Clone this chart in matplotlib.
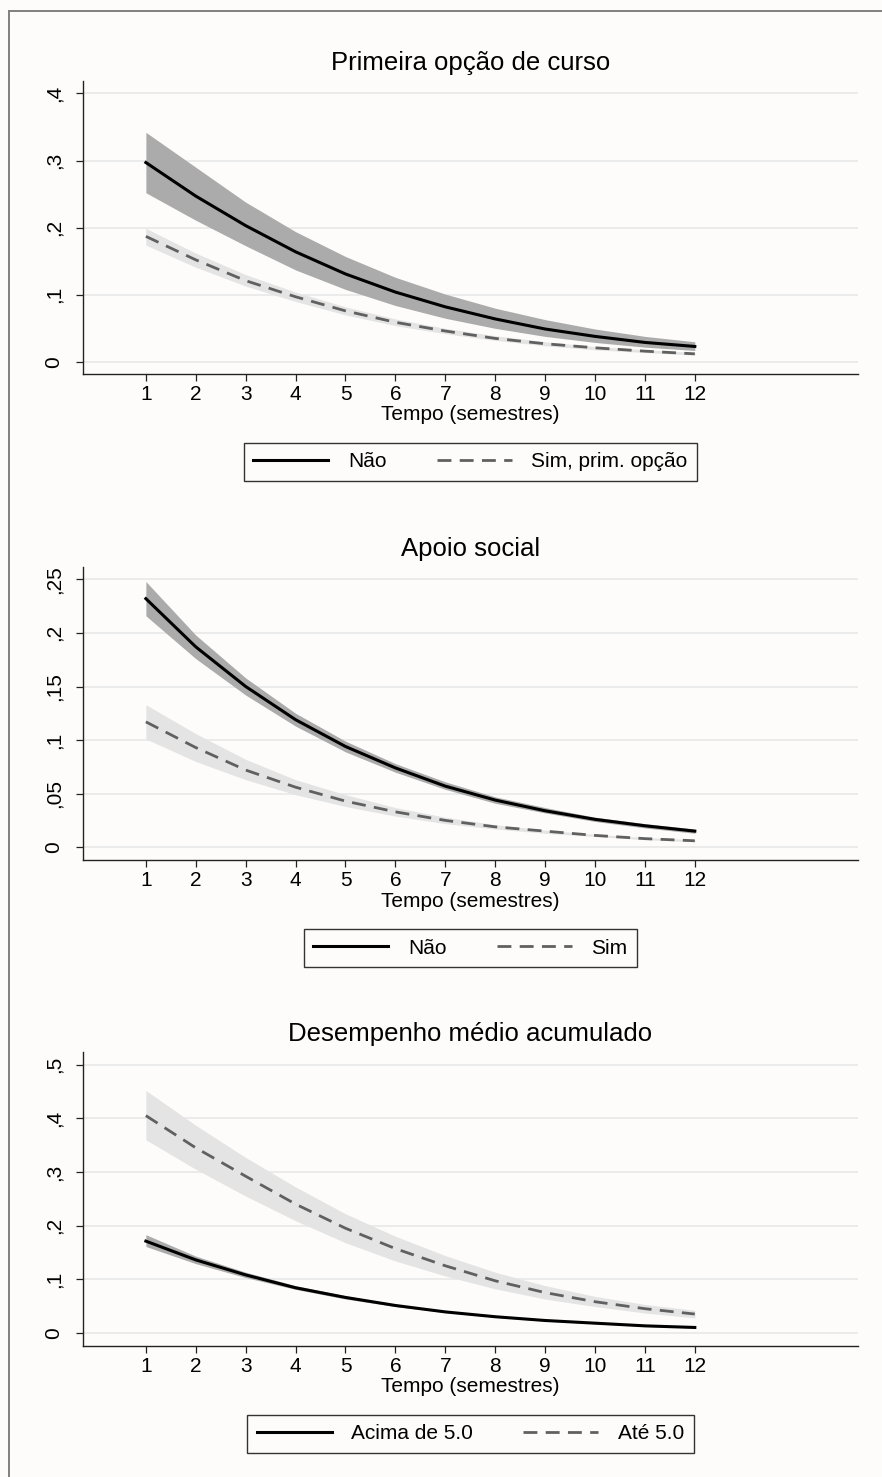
import matplotlib
matplotlib.use('Agg')
import matplotlib.pyplot as plt
from matplotlib.lines import Line2D
from matplotlib.ticker import FuncFormatter
import numpy as np

plt.rcParams['font.family'] = ['Liberation Sans', 'DejaVu Sans']

tempo = np.arange(1, 13)

# painel 1 - Primeira opção de curso
p1_nao = [0.297, 0.247, 0.203, 0.164, 0.131, 0.104, 0.082, 0.064, 0.049, 0.038, 0.029, 0.023]
p1_nao_lo = [0.252, 0.211, 0.173, 0.137, 0.108, 0.084, 0.065, 0.050, 0.038, 0.029, 0.022, 0.017]
p1_nao_hi = [0.342, 0.290, 0.238, 0.194, 0.157, 0.126, 0.101, 0.080, 0.063, 0.049, 0.038, 0.030]
p1_sim = [0.187, 0.152, 0.121, 0.097, 0.076, 0.059, 0.046, 0.035, 0.027, 0.021, 0.016, 0.012]
p1_sim_lo = [0.174, 0.141, 0.113, 0.090, 0.070, 0.054, 0.042, 0.032, 0.024, 0.018, 0.014, 0.010]
p1_sim_hi = [0.199, 0.162, 0.130, 0.104, 0.082, 0.064, 0.050, 0.039, 0.030, 0.023, 0.018, 0.014]

# painel 2 - Apoio social
p2_nao = [0.232, 0.187, 0.150, 0.119, 0.094, 0.074, 0.057, 0.044, 0.034, 0.026, 0.020, 0.015]
p2_nao_lo = [0.216, 0.176, 0.142, 0.113, 0.089, 0.070, 0.054, 0.041, 0.032, 0.024, 0.018, 0.013]
p2_nao_hi = [0.248, 0.198, 0.158, 0.125, 0.099, 0.078, 0.061, 0.047, 0.037, 0.028, 0.022, 0.017]
p2_sim = [0.117, 0.093, 0.072, 0.056, 0.043, 0.033, 0.025, 0.019, 0.015, 0.011, 0.008, 0.006]
p2_sim_lo = [0.101, 0.080, 0.063, 0.049, 0.038, 0.029, 0.022, 0.017, 0.013, 0.010, 0.007, 0.005]
p2_sim_hi = [0.133, 0.106, 0.082, 0.063, 0.049, 0.037, 0.028, 0.021, 0.016, 0.012, 0.009, 0.007]

# painel 3 - Desempenho médio acumulado
p3_acima = [0.171, 0.136, 0.108, 0.084, 0.066, 0.051, 0.039, 0.030, 0.023, 0.018, 0.013, 0.010]
p3_acima_lo = [0.161, 0.129, 0.103, 0.081, 0.063, 0.049, 0.038, 0.029, 0.022, 0.017, 0.012, 0.009]
p3_acima_hi = [0.183, 0.143, 0.113, 0.088, 0.069, 0.053, 0.041, 0.031, 0.024, 0.019, 0.014, 0.011]
p3_ate = [0.405, 0.345, 0.292, 0.240, 0.195, 0.157, 0.125, 0.097, 0.075, 0.058, 0.045, 0.035]
p3_ate_lo = [0.360, 0.305, 0.255, 0.209, 0.168, 0.134, 0.106, 0.082, 0.063, 0.049, 0.037, 0.028]
p3_ate_hi = [0.452, 0.387, 0.327, 0.272, 0.222, 0.180, 0.144, 0.113, 0.088, 0.068, 0.053, 0.042]

bg = '#fdfcfa'
escuro = '#ababab'
claro = '#e4e4e4'
tracejado = '#606060'


def fmt_br(v, pos):
    if abs(v) < 1e-9:
        return '0'
    s = ('%.2f' % v).rstrip('0')
    return s.replace('0.', ',')


def painel(ax, titulo, ylim, yticks, s_solid, s_dash, leg):
    y, lo, hi = s_solid
    yd, lod, hid = s_dash
    # bandas de confiança
    ax.fill_between(tempo, lo, hi, color=escuro, lw=0, zorder=2)
    ax.fill_between(tempo, lod, hid, color=claro, lw=0, zorder=2)
    ax.plot(tempo, y, color='black', lw=2.2, zorder=4, label=leg[0])
    ax.plot(tempo, yd, color=tracejado, lw=2.0, dashes=(5, 3), zorder=4, label=leg[1])
    ax.set_xlim(-0.26, 15.27)
    ax.set_ylim(*ylim)
    ax.set_xticks(tempo)
    ax.set_yticks(yticks)
    ax.yaxis.set_major_formatter(FuncFormatter(fmt_br))
    for t in ax.get_yticklabels():
        t.set_rotation(90)
        t.set_va('center')
    ax.grid(axis='y', color='#e8e8e8', lw=1.2, zorder=0)
    ax.set_axisbelow(True)
    for s in ['top', 'right']:
        ax.spines[s].set_visible(False)
    for s in ['left', 'bottom']:
        ax.spines[s].set_color('#222222')
        ax.spines[s].set_linewidth(1.0)
    ax.tick_params(axis='both', direction='out', length=5, width=0.9, color='#222222', labelsize=15)
    ax.tick_params(axis='x', pad=3)
    ax.tick_params(axis='y', pad=9)
    ax.set_facecolor(bg)
    ax.set_title(titulo, fontsize=18.5, pad=8)
    ax.set_xlabel('Tempo (semestres)', fontsize=15, labelpad=1)
    lg = ax.legend(loc='upper center', bbox_to_anchor=(0.5, -0.2), ncol=2, fontsize=15,
                   frameon=True, fancybox=False, edgecolor='black', facecolor=bg,
                   handlelength=3.6, columnspacing=2.4, borderpad=0.45, handletextpad=0.95)
    lg.get_frame().set_linewidth(1.0)


fig = plt.figure(figsize=(8.82, 14.77), dpi=100, facecolor=bg)

ax1 = fig.add_axes([0.0941, 0.7468, 0.8787, 0.1986])
painel(ax1, 'Primeira opção de curso', (-0.018, 0.419), [0, 0.1, 0.2, 0.3, 0.4],
       (p1_nao, p1_nao_lo, p1_nao_hi), (p1_sim, p1_sim_lo, p1_sim_hi),
       ['Não', 'Sim, prim. opção'])

ax2 = fig.add_axes([0.0941, 0.4177, 0.8787, 0.1986])
painel(ax2, 'Apoio social', (-0.012, 0.2618), [0, 0.05, 0.1, 0.15, 0.2, 0.25],
       (p2_nao, p2_nao_lo, p2_nao_hi), (p2_sim, p2_sim_lo, p2_sim_hi),
       ['Não', 'Sim'])

ax3 = fig.add_axes([0.0941, 0.0889, 0.8787, 0.1986])
painel(ax3, 'Desempenho médio acumulado', (-0.024, 0.523), [0, 0.1, 0.2, 0.3, 0.4, 0.5],
       (p3_acima, p3_acima_lo, p3_acima_hi), (p3_ate, p3_ate_lo, p3_ate_hi),
       ['Acima de 5.0', 'Até 5.0'])

# moldura externa (cinza, topo e esquerda)
fig.add_artist(Line2D([8.5 / 882, 8.5 / 882], [0, 1 - 10.5 / 1477], color='#808080', lw=1.4,
                      transform=fig.transFigure))
fig.add_artist(Line2D([8.5 / 882, 1], [1 - 10.5 / 1477, 1 - 10.5 / 1477], color='#808080', lw=1.4,
                      transform=fig.transFigure))

fig.savefig('out.png', dpi=100, facecolor=bg)
